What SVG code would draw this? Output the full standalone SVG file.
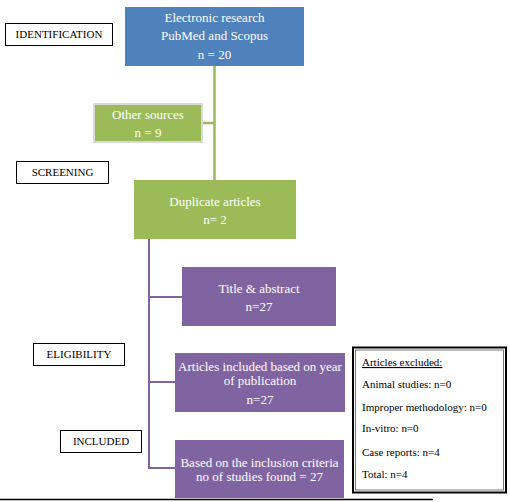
<svg xmlns="http://www.w3.org/2000/svg" width="510" height="502" viewBox="0 0 510 502">
<style>
.lbl{fill:#fff;stroke:#000;stroke-width:1}
text{font-family:'Liberation Serif','Times New Roman','DejaVu Serif',serif}
.lt{font-size:11px;fill:#000;text-anchor:middle}
.bt{font-size:13px;fill:#fff;text-anchor:middle}
.et{font-size:11px;fill:#000}
.blue{fill:#4F81BD}
.green{fill:#9BBB59}
.purple{fill:#8064A2}
.gl{stroke:#9BBB59;stroke-width:2.5;fill:none}
.pl{stroke:#8064A2;stroke-width:2;fill:none}
</style>
<rect width="510" height="502" fill="#fff"/>
<g id="connectors">
<line class="gl" x1="214.5" y1="66" x2="214.5" y2="180"/>
<line class="gl" x1="202" y1="123" x2="214.5" y2="123"/>
<path class="pl" d="M149 239 V468 H175"/>
<line class="pl" x1="149" y1="297" x2="182" y2="297"/>
<line class="pl" x1="149" y1="382" x2="175" y2="382"/>
</g>
<g id="label-identification">
<rect class="lbl" x="5.5" y="23.5" width="107" height="22"/>
<text class="lt" x="59" y="38">IDENTIFICATION</text>
</g>
<g id="label-screening">
<rect class="lbl" x="16.5" y="161.5" width="92" height="22"/>
<text class="lt" x="62.5" y="176">SCREENING</text>
</g>
<g id="label-eligibility">
<rect class="lbl" x="33.5" y="343.5" width="91" height="22"/>
<text class="lt" x="79" y="358">ELIGIBILITY</text>
</g>
<g id="label-included">
<rect class="lbl" x="60.5" y="430.5" width="81" height="22"/>
<text class="lt" x="101" y="445">INCLUDED</text>
</g>
<g id="node-electronic">
<rect class="blue" x="125" y="7" width="179" height="59"/>
<text class="bt" x="214.5" y="22">Electronic research</text>
<text class="bt" x="214.5" y="40">PubMed and Scopus</text>
<text class="bt" x="214.5" y="59">n = 20</text>
</g>
<g id="node-other">
<rect class="green" x="94" y="104" width="108" height="38" stroke="#D9D9D9" stroke-width="2"/>
<text class="bt" x="148" y="119">Other sources</text>
<text class="bt" x="148" y="137">n = 9</text>
</g>
<g id="node-duplicate">
<rect class="green" x="134" y="180" width="162" height="59"/>
<text class="bt" x="215" y="206">Duplicate articles</text>
<text class="bt" x="215" y="224">n= 2</text>
</g>
<g id="node-title">
<rect class="purple" x="182" y="267" width="154" height="59"/>
<text class="bt" x="259" y="293">Title &amp; abstract</text>
<text class="bt" x="259" y="311">n=27</text>
</g>
<g id="node-year">
<rect class="purple" x="175" y="353" width="170" height="59"/>
<text class="bt" x="260" y="371">Articles included based on year</text>
<text class="bt" x="260" y="385">of publication</text>
<text class="bt" x="260" y="404">n=27</text>
</g>
<g id="node-inclusion">
<rect class="purple" x="175" y="440" width="169" height="58"/>
<text class="bt" x="259.5" y="467">Based on the inclusion criteria</text>
<text class="bt" x="259.5" y="481">no of studies found = 27</text>
</g>
<g id="node-excluded">
<rect x="353" y="347.5" width="153" height="145" fill="#fff" stroke="#000" stroke-width="2"/>
<rect x="355.5" y="350" width="148" height="140" fill="none" stroke="#555" stroke-width="0.8"/>
<text class="et" x="362" y="366" text-decoration="underline">Articles excluded:</text>
<text class="et" x="362" y="388">Animal studies: n=0</text>
<text class="et" x="362" y="411">Improper methodology: n=0</text>
<text class="et" x="362" y="432">In-vitro: n=0</text>
<text class="et" x="362" y="456">Case reports: n=4</text>
<text class="et" x="362" y="478">Total: n=4</text>
</g>
<line x1="0" y1="499.5" x2="433" y2="499.5" stroke="#000" stroke-width="1.5"/>
</svg>
